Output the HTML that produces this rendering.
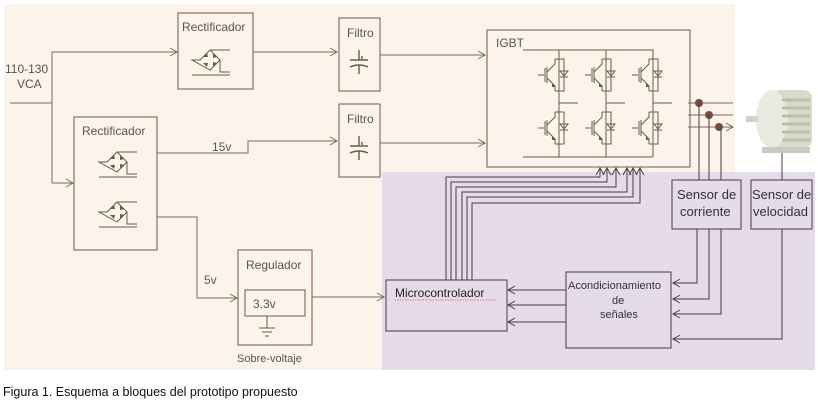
<!DOCTYPE html>
<html><head><meta charset="utf-8"><style>
body{margin:0;background:#fff;width:818px;height:402px;overflow:hidden}
svg text{font-family:"Liberation Sans",sans-serif;fill:#555}
</style></head><body>
<svg width="818" height="402" viewBox="0 0 818 402" xmlns="http://www.w3.org/2000/svg">
<defs>
<marker id="a" markerWidth="10" markerHeight="10" refX="8" refY="5" orient="auto" markerUnits="userSpaceOnUse"><path d="M1,1 L8,5 L1,9" fill="none" stroke="#7a6a5a" stroke-width="1"/></marker>
<marker id="b" markerWidth="10" markerHeight="10" refX="8" refY="5" orient="auto" markerUnits="userSpaceOnUse"><path d="M1,1 L8,5 L1,9" fill="none" stroke="#4a3a4a" stroke-width="1"/></marker>
<g id="br">
<path d="M-18,0 H-10 L0,-10 L10,0 L0,10 Z M0,-10 H20 M10,0 V12 H20 M-18,15 H20" fill="none" stroke="#6b5a4a" stroke-width="1"/>
<path d="M-7,-3 l4,-4 l1,4z M3,-7 l4,4 l-4,1z M-7,3 l4,4 l1,-4z M3,7 l4,-4 l-4,-1z" fill="#6b5a4a"/>
</g>
<g id="cap"><path d="M0,-10 V0 M-9,0 H9 M-9,7 Q0,3 9,7 M0,5 V14 M3,-4 V-1" fill="none" stroke="#6b5a4a" stroke-width="1.4"/></g>
<g id="tr"><path d="M-14,0 H-8 M-7,-7 V7 M-5,-8 V8 M-5,-3 L3,-11 V-16 M-5,3 L3,11 V16 M3,-11 V-16 M3,-16 H12 V16 H3 M8,2 h8 M12,-4 V2" fill="none" stroke="#6b5a4a" stroke-width="1"/><path d="M8,-4 h8 l-4,5z" fill="none" stroke="#6b5a4a"/><path d="M0,8 l4,4 l-4,0z" fill="#6b5a4a"/></g>
</defs>
<rect x="4" y="4" width="731" height="366" fill="#fcf4ea"/>
<rect x="382" y="172" width="433" height="198" fill="#e6dbe8"/>
<g stroke="#7a6a5a" fill="none" stroke-width="1">
<path d="M10,103 H52 M52,52 V183"/>
<path d="M52,52 H177" marker-end="url(#a)"/>
<path d="M52,183 H73" marker-end="url(#a)"/>
<rect x="178" y="13" width="75" height="76" stroke="#6b5a4a"/>
<path d="M253,52 H337" marker-end="url(#a)"/>
<rect x="339" y="18" width="41" height="73" stroke="#6b5a4a"/>
<rect x="339" y="104" width="41" height="73" stroke="#6b5a4a"/>
<path d="M380,55 H485" marker-end="url(#a)"/>
<path d="M157,153 H248 V141 H337" marker-end="url(#a)"/>
<path d="M380,143 H485" marker-end="url(#a)"/>
<rect x="74" y="117" width="83" height="133" stroke="#6b5a4a"/>
<path d="M157,217 H197 V298 H237" marker-end="url(#a)"/>
<rect x="238" y="250" width="74" height="95" stroke="#6b5a4a"/>
<rect x="245" y="290" width="60" height="26" stroke="#6b5a4a"/>
<path d="M267,316 V328 M259,328 H275 M262,332 H272 M265,336 H269" stroke="#6b5a4a"/>
<path d="M312,297 H384" marker-end="url(#a)"/>
<rect x="487" y="30" width="203" height="137" stroke="#6b5a4a"/>
<path d="M523,50 H653 V157 M523,157 H653 M559,50 V157 M606,50 V157 M559,103 H578 M606,103 H625 M653,103 H672" stroke="#6b5a4a"/>
<path d="M688,103 H733 M688,115 H733 M688,127 H733" marker-end="url(#a)"/>
</g>
<use href="#br" x="210" y="60"/>
<use href="#br" x="117" y="162"/>
<use href="#br" x="117" y="212"/>
<use href="#cap" x="359" y="60"/>
<use href="#cap" x="359" y="146"/>
<use href="#tr" x="552" y="75"/><use href="#tr" x="599" y="75"/><use href="#tr" x="646" y="75"/>
<use href="#tr" x="552" y="128"/><use href="#tr" x="599" y="128"/><use href="#tr" x="646" y="128"/>
<g fill="#7a4a3a"><circle cx="699" cy="103" r="4"/><circle cx="709" cy="115" r="4"/><circle cx="719" cy="127" r="4"/></g>
<g>
<rect x="772" y="90" width="40" height="58" rx="8" fill="#d8dccf"/>
<ellipse cx="772" cy="119" rx="16" ry="29" fill="#e8ebe2"/>
<path d="M782,100 H810 M782,108 H810 M782,116 H810 M782,124 H810 M782,132 H810 M782,140 H810" stroke="#bcc0a0" stroke-width="3"/>
<rect x="746" y="116" width="12" height="6" fill="#cfd2c8"/>
<rect x="762" y="147" width="48" height="6" fill="#c8cbc0"/>
</g>
<g stroke="#4a3a4a" fill="none" stroke-width="1">
<rect x="386" y="280" width="121" height="51"/>
<rect x="566" y="272" width="105" height="76"/>
<rect x="672" y="180" width="69" height="49"/>
<rect x="751" y="180" width="61" height="49"/>
<path d="M566,290 H508" marker-end="url(#b)"/>
<path d="M566,305 H508" marker-end="url(#b)"/>
<path d="M566,322 H508" marker-end="url(#b)"/>
<path d="M699,103 V180 M709,115 V180 M721,127 V180 M782,153 V180"/>
<path d="M697,229 V283 H673" marker-end="url(#b)"/>
<path d="M709,229 V299 H673" marker-end="url(#b)"/>
<path d="M721,229 V314 H673" marker-end="url(#b)"/>
<path d="M782,229 V339 H673" marker-end="url(#b)"/>
<path d="M446,280 V177 H600 V168" marker-end="url(#b)"/>
<path d="M451,280 V182 H607 V168" marker-end="url(#b)"/>
<path d="M456,280 V187 H616 V168" marker-end="url(#b)"/>
<path d="M462,280 V192 H627 V168" marker-end="url(#b)"/>
<path d="M467,280 V197 H633 V168" marker-end="url(#b)"/>
<path d="M472,280 V203 H640 V168" marker-end="url(#b)"/>
</g>
<g font-size="12">
<text x="5" y="73">110-130</text><text x="17" y="88">VCA</text>
<text x="182" y="31">Rectificador</text>
<text x="82" y="135">Rectificador</text>
<text x="347" y="37">Filtro</text>
<text x="347" y="123">Filtro</text>
<text x="212" y="151">15v</text>
<text x="204" y="284">5v</text>
<text x="246" y="269">Regulador</text>
<text x="253" y="308">3.3v</text>
<text x="237" y="362" font-size="11">Sobre-voltaje</text>
<text x="496" y="47">IGBT</text>
<text x="395" y="297" style="fill:#222">Microcontrolador</text>
<path d="M395,300 H496" stroke="#d88" stroke-dasharray="1.5,1"/>
<text x="568" y="289" font-size="11" style="fill:#333">Acondicionamiento</text>
<text x="612" y="304" font-size="11" style="fill:#333">de</text>
<text x="600" y="318" font-size="11" style="fill:#333">señales</text>
<text x="677" y="199" font-size="13" style="fill:#333">Sensor de</text>
<text x="680" y="216" font-size="13" style="fill:#333">corriente</text>
<text x="752" y="199" font-size="13" style="fill:#333">Sensor de</text>
<text x="753" y="216" font-size="13" style="fill:#333">velocidad</text>
<text x="3" y="396" font-size="12.5" style="fill:#111">Figura 1. Esquema a bloques del prototipo propuesto</text>
</g>
</svg>
</body></html>
